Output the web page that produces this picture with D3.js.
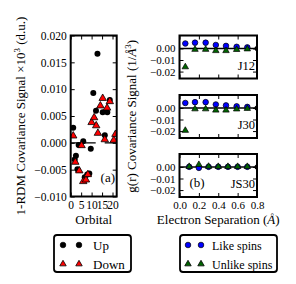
<!DOCTYPE html>
<html>
<head>
<meta charset="utf-8">
<script src="https://cdn.jsdelivr.net/npm/d3@7"></script>
<style>
    body{margin:0;background:#fff;}
    text{font-family:"Liberation Serif","Times New Roman",serif;fill:#000;}
</style>
</head>
<body>
<svg id="chart" width="296" height="284"></svg>
<script>
// panel (a): 1-RDM covariance per orbital
let upOrbital = [1.2, 1.9, 2.5, 3.2, 3.8, 6.0, 6.7, 7.9, 8.9, 9.6, 10.8, 12.1, 12.8, 15.3, 16.3, 17.5, 18.7];
let upSignal = [0.0028, -0.0031, -0.0024, -0.0049, -0.0004, 0.0003, -0.0064, -0.0059, -0.0057, -0.0011, 0.0093, 0.0060, 0.0166, 0.0057, 0.0014, 0.0057, 0.0080];
let downOrbital = [1.2, 2.2, 4.1, 5.2, 6.0, 7.3, 8.2, 10.0, 11.2, 12.2, 13.0, 14.2, 15.3, 16.3, 17.4, 18.7, 20.6, 21.4];
let downSignal = [0.0013, -0.0036, -0.0052, -0.0005, -0.0072, -0.0069, -0.0059, 0.0038, 0.0047, 0.0032, 0.0018, 0.0069, 0.0083, 0.0006, 0.0065, 0.0077, 0.0005, 0.0016];
let orbitalTicks = [0, 5, 10, 15, 20];
let signalTicks = [0.020, 0.015, 0.010, 0.005, 0.000, -0.005, -0.010];

// panel (b): g(r) covariance, three runs
let panelNames = ["J12", "J30", "JS30"];
let sepJ = [0.06, 0.16, 0.27, 0.375, 0.48, 0.59, 0.70];
let sepJS = [0.1, 0.2, 0.3, 0.4, 0.5, 0.6, 0.7];
let likeJ12 = [0.0043, 0.0050, 0.0050, 0.0030, 0.0022, 0.0014, 0.0009];
let unlikeJ12 = [-0.0160, -0.0009, -0.0009, -0.0020, -0.0020, -0.0010, -0.0005];
let likeJ30 = [0.0043, 0.0050, 0.0050, 0.0030, 0.0022, 0.0014, 0.0009];
let unlikeJ30 = [-0.0195, -0.0009, -0.0009, -0.0020, -0.0020, -0.0010, -0.0005];
let likeJS30 = [0.0001, -0.0008, 0.0001, 0.0001, 0.0001, 0.0001, 0.0001];
let unlikeJS30 = [0.0003, 0.0020, 0.0004, 0.0003, 0.0003, 0.0003, 0.0003];
let zeroSep = [0.0, 0.8];
let separationTicks = [0.0, 0.2, 0.4, 0.6, 0.8];
let gTicks = [0.00, -0.01, -0.02];

let RED = "#ff0000", BLUE = "#0000ff", GREEN = "#006400";

let svg = d3.select("#chart");
let defs = svg.append("defs");

function clipFor(id, box){
    defs.append("clipPath").attr("id", id)
        .append("rect")
        .attr("x", box.x0).attr("y", box.y0)
        .attr("width", box.x1 - box.x0).attr("height", box.y1 - box.y0);
    return "url(#" + id + ")";
}

// inward ticks on all four sides, labels only where asked
function drawAxes(g, box, xScale, yScale, xTicks, yTicks, xFmt, yFmt){
    g.append("g").attr("transform", "translate(" + box.x0 + ",0)")
        .call(d3.axisLeft(yScale).tickValues(yTicks).tickFormat(yFmt || "").tickSizeInner(-4).tickSizeOuter(0).tickPadding(4));
    g.append("g").attr("transform", "translate(" + box.x1 + ",0)")
        .call(d3.axisRight(yScale).tickValues(yTicks).tickFormat("").tickSizeInner(-4).tickSizeOuter(0));
    g.append("g").attr("transform", "translate(0," + box.y1 + ")")
        .call(d3.axisBottom(xScale).tickValues(xTicks).tickFormat(xFmt || "").tickSizeInner(-4).tickSizeOuter(0).tickPadding(4));
    g.append("g").attr("transform", "translate(0," + box.y0 + ")")
        .call(d3.axisTop(xScale).tickValues(xTicks).tickFormat("").tickSizeInner(-4).tickSizeOuter(0));
    g.selectAll(".domain").remove();
    g.selectAll(".tick line").attr("stroke", "#000").attr("stroke-width", 1);
    g.selectAll(".tick text").attr("font-size", 11.5).attr("font-family", "Liberation Serif, serif").attr("fill", "#000");
}

function frame(g, box){
    g.append("rect")
        .attr("x", box.x0).attr("y", box.y0)
        .attr("width", box.x1 - box.x0).attr("height", box.y1 - box.y0)
        .attr("fill", "none").attr("stroke", "#000").attr("stroke-width", 2);
}

let tri = d3.symbol().type(d3.symbolTriangle).size(24);
let triSmall = d3.symbol().type(d3.symbolTriangle).size(18);

// ---------- panel (a)
let boxA = {x0: 70.7, x1: 116.7, y0: 35.5, y1: 196.5};
let xA = d3.scaleLinear().domain([0, 22]).range([boxA.x0, boxA.x1]);
let yA = d3.scaleLinear().domain([-0.010, 0.020]).range([boxA.y1, boxA.y0]);
let gA = svg.append("g");
drawAxes(gA, boxA, xA, yA, orbitalTicks, signalTicks, d3.format("d"), d3.format(".3f"));

let plotA = gA.append("g").attr("clip-path", clipFor("clipA", boxA));
plotA.append("line")
    .attr("x1", boxA.x0).attr("x2", boxA.x1)
    .attr("y1", yA(0)).attr("y2", yA(0))
    .attr("stroke", "#000").attr("stroke-width", 1.2)
    .attr("stroke-dasharray", "25,9");

plotA.selectAll(".up").data(upSignal).enter().append("circle")
    .attr("class", "up")
    .attr("cx", function(d, i){ return xA(upOrbital[i]); })
    .attr("cy", function(d){ return yA(d); })
    .attr("r", 3).attr("fill", "#000");

plotA.selectAll(".down").data(downSignal).enter().append("path")
    .attr("class", "down")
    .attr("d", tri)
    .attr("transform", function(d, i){ return "translate(" + xA(downOrbital[i]) + "," + yA(d) + ")"; })
    .attr("fill", RED).attr("stroke", "#000").attr("stroke-width", 0.8);

frame(gA, boxA);

gA.append("text").attr("x", 115).attr("y", 182).attr("text-anchor", "end")
    .attr("font-size", 13).text("(a)");

gA.append("text").attr("x", (boxA.x0 + boxA.x1) / 2).attr("y", 224)
    .attr("text-anchor", "middle").attr("font-size", 13).text("Orbital");

let aLab = gA.append("text")
    .attr("transform", "translate(25," + ((boxA.y0 + boxA.y1) / 2) + ") rotate(-90)")
    .attr("text-anchor", "middle").attr("font-size", 13);
aLab.append("tspan").text("1-RDM Covariance Signal \u00d710");
aLab.append("tspan").attr("font-size", 9).attr("dy", -5).text("3");
aLab.append("tspan").attr("dy", 5).text(" (d.u.)");

// ---------- panel (b)
let boxesB = [
    {x0: 179.5, x1: 257, y0: 35.5, y1: 78.5},
    {x0: 179.5, x1: 257, y0: 95, y1: 138},
    {x0: 179.5, x1: 257, y0: 154, y1: 197}
];
let likeSets = [likeJ12, likeJ30, likeJS30];
let unlikeSets = [unlikeJ12, unlikeJ30, unlikeJS30];
let sepSets = [sepJ, sepJ, sepJS];

boxesB.forEach(function(box, p){
    let x = d3.scaleLinear().domain([0, 0.8]).range([box.x0, box.x1]);
    let y = d3.scaleLinear().domain([-0.026, 0.0112]).range([box.y1, box.y0]);
    let g = svg.append("g");
    let last = p === boxesB.length - 1;
    drawAxes(g, box, x, y, separationTicks, gTicks, last ? d3.format(".1f") : null, d3.format(".2f"));
    g.selectAll(".tick text").attr("font-size", 11);

    let plot = g.append("g").attr("clip-path", clipFor("clipB" + p, box));
    plot.append("path")
        .datum(zeroSep)
        .attr("d", d3.line().x(function(d){ return x(d); }).y(y(0)))
        .attr("stroke", "#000").attr("stroke-width", 1.5).attr("fill", "none");
    plot.selectAll(".zero").data(zeroSep.slice(1)).enter().append("circle")
        .attr("cx", function(d){ return x(d); }).attr("cy", y(0))
        .attr("r", 2.5).attr("fill", "#000");

    plot.selectAll(".like").data(likeSets[p]).enter().append("circle")
        .attr("class", "like")
        .attr("cx", function(d, i){ return x(sepSets[p][i]); })
        .attr("cy", function(d){ return y(d); })
        .attr("r", 2.8).attr("fill", BLUE).attr("stroke", "#000").attr("stroke-width", 0.7);

    plot.selectAll(".unlike").data(unlikeSets[p]).enter().append("path")
        .attr("class", "unlike")
        .attr("d", triSmall)
        .attr("transform", function(d, i){ return "translate(" + x(sepSets[p][i]) + "," + y(d) + ")"; })
        .attr("fill", GREEN).attr("stroke", "#000").attr("stroke-width", 0.7);

    frame(g, box);

    g.append("text").attr("x", box.x1 - 2).attr("y", box.y1 - 9)
        .attr("text-anchor", "end").attr("font-size", 12.5).text(panelNames[p]);
    if(last){
        g.append("text").attr("x", box.x0 + 10).attr("y", box.y1 - 10)
            .attr("font-size", 13).text("(b)");
        let lab = g.append("text").attr("x", (box.x0 + box.x1) / 2).attr("y", 224)
            .attr("text-anchor", "middle").attr("font-size", 13);
        lab.append("tspan").text("Electron Separation (");
        lab.append("tspan").attr("font-style", "italic").text("\u00c5");
        lab.append("tspan").text(")");
    }
});

let gLab = svg.append("text")
    .attr("transform", "translate(136," + ((boxesB[0].y0 + boxesB[2].y1) / 2) + ") rotate(-90)")
    .attr("text-anchor", "middle").attr("font-size", 13);
gLab.append("tspan").text("g(r) Covariance Signal (1/");
gLab.append("tspan").attr("font-style", "italic").text("\u00c5");
gLab.append("tspan").attr("font-size", 9).attr("dy", -5).text("3");
gLab.append("tspan").attr("dy", 5).text(")");

// ---------- legends
function legend(x0, y0, w, h, entries, size, gap){
    let g = svg.append("g");
    g.append("rect").attr("x", x0).attr("y", y0).attr("width", w).attr("height", h)
        .attr("rx", 3).attr("fill", "#fff").attr("stroke", "#000").attr("stroke-width", 1.8);
    entries.forEach(function(e, i){
        let cy = y0 + 10 + i * 19;
        [x0 + gap[0], x0 + gap[1]].forEach(function(cx){
            if(e.shape === "circle"){
                g.append("circle").attr("cx", cx).attr("cy", cy).attr("r", 2.8)
                    .attr("fill", e.fill).attr("stroke", "#000").attr("stroke-width", 0.7);
            } else {
                g.append("path").attr("d", triSmall).attr("transform", "translate(" + cx + "," + cy + ")")
                    .attr("fill", e.fill).attr("stroke", "#000").attr("stroke-width", 0.8);
            }
        });
        g.append("text").attr("x", x0 + gap[2]).attr("y", cy + 4.5).attr("font-size", size).text(e.label);
    });
}
legend(54, 235, 77, 37, [
    {shape: "circle", fill: "#000", label: "Up"},
    {shape: "triangle", fill: RED, label: "Down"}
], 13, [9, 25, 39]);
legend(180, 235, 97, 37, [
    {shape: "circle", fill: BLUE, label: "Like spins"},
    {shape: "triangle", fill: GREEN, label: "Unlike spins"}
], 12, [8, 21, 32]);
</script>
</body>
</html>
